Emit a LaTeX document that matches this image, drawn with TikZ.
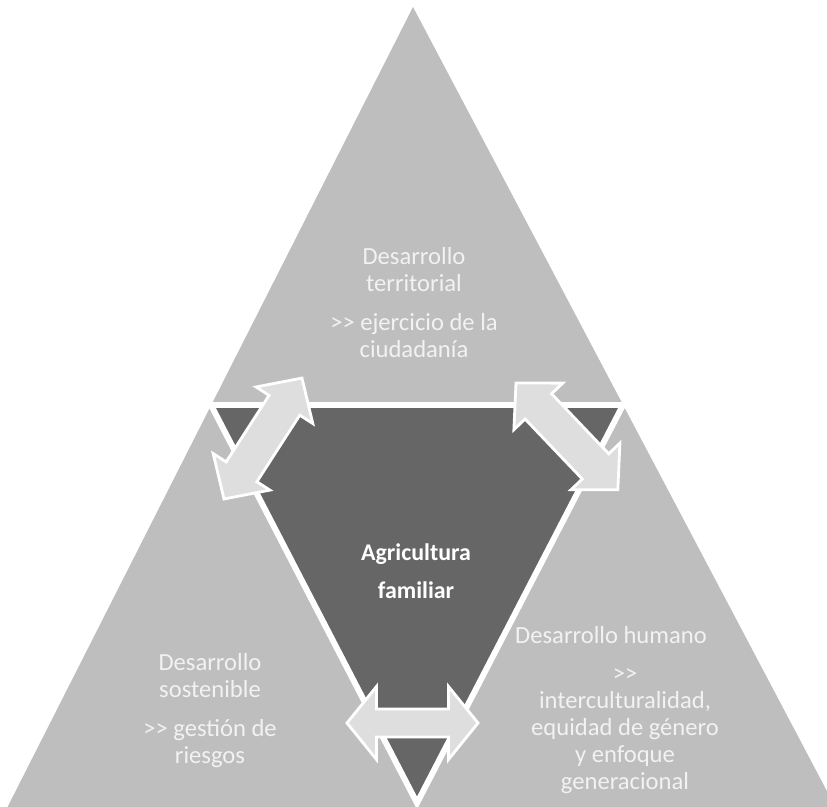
\documentclass[tikz,border=0pt]{standalone}
\usepackage{fontspec}
\setmainfont{Carlito}
\usetikzlibrary{calc}
\definecolor{paleregion}{RGB}{190,190,190}
\definecolor{coreregion}{RGB}{102,102,102}
\definecolor{arrowfill}{RGB}{222,222,222}
\definecolor{regionink}{RGB}{242,242,242}

\tikzset{
  core/.style={fill=coreregion, draw=white, line width=4.2pt, line join=miter},
  twoway/.style={fill=arrowfill, draw=white, line width=2pt, line join=miter},
  regiontext/.style={text=regionink, align=center, inner sep=0pt,
    font=\fontsize{17.5}{19.2}\selectfont},
  coretext/.style={text=white, align=center, inner sep=0pt,
    font=\fontsize{17}{19.2}\selectfont\bfseries},
}

% double headed arrow from #1 to #2: shaft half width, head half width, head length
\newcommand{\twowayarrow}[5]{%
  \filldraw[twoway] let \p1=(#1), \p2=(#2),
    \n1={atan2(\y2-\y1,\x2-\x1)}, \n2={veclen(\x2-\x1,\y2-\y1)} in
    [shift={(\p1)}, rotate=\n1]
    (0pt,0pt) -- (#5,#4) -- (#5,#3) -- (\n2-#5,#3) -- (\n2-#5,#4)
    -- (\n2,0pt) -- (\n2-#5,-#4) -- (\n2-#5,-#3) -- (#5,-#3) -- (#5,-#4) -- cycle;
}

\begin{document}
\begin{tikzpicture}[x=0.025cm, y=-0.025cm]
  \useasboundingbox (0,0) rectangle (827,807);
  \clip (0,0) rectangle (827,807);
  % outer triangle
  \fill[paleregion] (413,7) -- (5,812) -- (838,812) -- cycle;
  % agricultura familiar
  \filldraw[core] (211,405) -- (623,405) -- (417,803) -- cycle;
  % arrows
  \coordinate (left-low) at (224,499);
  \coordinate (left-high) at (302,378);
  \coordinate (right-high) at (516,383);
  \coordinate (right-low) at (618,490);
  \coordinate (base-left) at (347,723);
  \coordinate (base-right) at (478,723);
  \twowayarrow{left-low}{left-high}{13pt}{24pt}{23pt}
  \twowayarrow{right-high}{right-low}{13pt}{24pt}{23pt}
  \twowayarrow{base-left}{base-right}{10pt}{26pt}{21pt}
  % texts
  \node[regiontext] (terr-head) at (414,270) {Desarrollo\\territorial};
  \node[regiontext] (terr-note) at (414,336) {{>}{>} ejercicio de la\\ciudadanía};
  \node[regiontext] (sost-head) at (210,676) {Desarrollo\\sostenible};
  \node[regiontext] (sost-note) at (210,744) {{>}{>} gestión de\\riesgos};
  \node[regiontext] (hum-head) at (611,635) {Desarrollo humano};
  \node[regiontext] (hum-note) at (625,731)
    {{>}{>}\\interculturalidad,\\equidad de género\\y enfoque\\generacional};
  \node[coretext] (core-label) at (416,571) {Agricultura\\[8pt]familiar};
\end{tikzpicture}
\end{document}
